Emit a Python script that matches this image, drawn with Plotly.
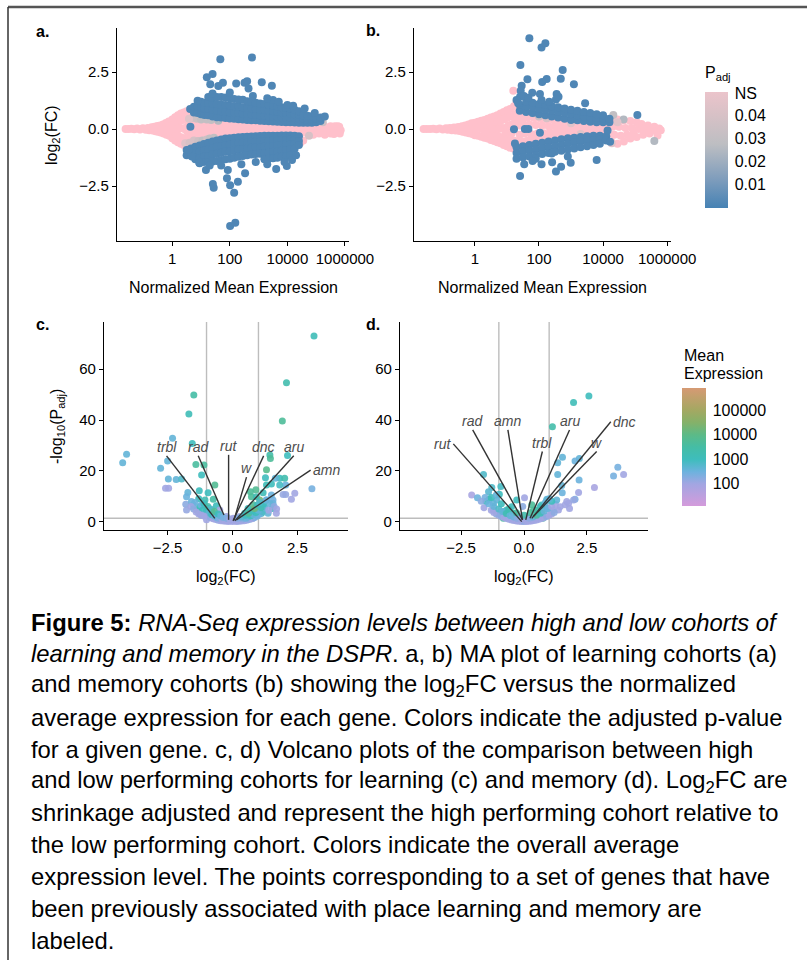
import plotly.graph_objects as go

W, H = 807, 960
FONT = "Liberation Sans, Arial, Helvetica, sans-serif"

# ---------------- Panel a: learning MA plot ----------------
# points as (log10 normalized mean expression, log2 fold change)
a_ns_pts = [(-1.62,0.0),(-1.52,0.0),(-1.42,0.01),(-1.32,-0.01),(-1.22,0.02),(-1.12,-0.02),(-1.02,0.03),(-0.92,-0.03),
    (-0.85,0.05),(-0.8,-0.05),(-0.72,0.08),(-0.68,-0.07),(-0.62,0.1),(-0.58,-0.1),(-0.52,0.13),(-0.5,-0.12),(-0.45,0.0),
    (-0.42,0.16),(-0.4,-0.15),(-0.32,0.2),(-0.3,-0.2),(-0.3,0.0),(-0.22,0.26),(-0.2,-0.25),(-0.18,0.05),(-0.12,0.33),
    (-0.1,-0.3),(-0.1,0.1),(-0.08,-0.08),(0.0,0.42),(0.0,-0.4),(0.0,0.15),(0.02,-0.15),(0.1,0.52),(0.1,-0.5),(0.1,0.22),
    (0.12,-0.22),(0.1,0.0),(0.2,0.6),(0.2,-0.58),(0.2,0.3),(0.2,-0.3),(0.22,0.0),(0.3,0.68),(0.3,-0.65),(0.32,0.38),
    (0.3,-0.36),(0.3,0.05),(0.4,0.72),(0.4,-0.7),(0.4,0.42),(0.4,-0.42),(0.42,0.0),(0.5,0.78),(0.5,-0.74),(0.5,0.45),
    (0.5,-0.45),(0.5,0.1),(0.52,-0.12),(0.6,0.72),(0.6,-0.7),(0.6,0.4),(0.6,-0.4),(0.62,0.0),(0.7,0.62),(0.7,-0.62),
    (0.7,0.3),(0.7,-0.3),(0.72,0.0),(0.8,0.55),(0.8,-0.58),(0.8,0.25),(0.82,-0.25),(0.9,0.45),(0.9,-0.45),(0.9,0.0),
    (1.0,0.35),(1.0,-0.4),(1.0,0.12),(1.0,-0.15),(1.1,0.3),(1.1,-0.3),(1.15,0.0),(1.2,0.22),(1.25,-0.22),
    (1.3,0.25),(1.35,0.0),(1.35,-0.25),(1.5,0.22),(1.55,0.0),(1.5,-0.22),(1.7,0.22),(1.75,0.0),(1.7,-0.2),(1.9,0.2),
    (1.95,0.0),(1.9,-0.2),(2.1,0.2),(2.15,0.0),(2.1,-0.18),(2.3,0.2),(2.35,0.0),(2.3,-0.18),(2.5,0.18),(2.55,0.0),
    (2.5,-0.16),(2.7,0.18),(2.75,0.0),(2.7,-0.16),(2.9,0.18),(2.95,0.0),(2.9,-0.16),(3.1,0.16),(3.15,0.0),(3.1,-0.15),
    (3.3,0.16),(3.35,0.0),(3.3,-0.15),(3.5,0.15),(3.55,0.0),(3.5,-0.14),(3.7,0.15),(3.75,0.0),(3.7,-0.14),(3.9,0.14),
    (3.95,0.0),(3.9,-0.14),(4.1,0.14),(4.15,0.0),(4.1,-0.13),(4.3,0.14),(4.35,0.0),(4.3,-0.13),(4.5,0.12),(4.55,0.0),
    (4.5,-0.15),(4.7,0.12),(4.75,0.0),(4.7,-0.2),(4.9,0.1),(4.95,-0.05),(4.9,-0.25),(5.1,0.1),(5.15,-0.05),(5.1,-0.2),
    (5.3,0.1),(5.35,-0.08),(5.3,-0.25),(5.5,0.12),(5.55,-0.05),(5.5,-0.2),(5.65,0.12),(5.7,0.05),(5.75,0.12),
    (5.8,0.1),(5.85,-0.05),(5.82,-0.2),(5.62,-0.22),(4.45,-0.6),(4.55,-0.5)]
a_grey_pts = [(0.68,0.47),(0.85,0.45),(1.0,0.42),(0.58,0.45),(0.75,-0.5),(0.9,-0.52),(1.05,-0.5),(1.2,-0.46),
    (1.3,-0.42),(1.45,-0.38),(1.2,0.42),(1.35,0.4),(5.23,0.3),(4.75,-0.3),(0.45,-0.62),(0.6,-0.6),(1.6,0.36),(2.85,-1.1)]
a_grey_padj = [0.04,0.035,0.03,0.045,0.04,0.035,0.03,0.035,0.03,0.03,0.03,0.03,0.035,0.04,0.045,0.04,0.025,0.03]
a_blue_pts = [(0.62,0.88),(0.75,0.72),(0.75,0.98),(0.88,0.7),(0.88,0.98),(1.0,0.65),(1.0,0.95),(1.0,1.2),(1.12,0.62),
    (1.12,0.9),(1.12,1.15),(1.25,0.6),(1.25,0.88),(1.25,1.15),(1.25,1.4),(1.4,0.55),(1.4,0.85),(1.4,1.12),(1.4,1.38),
    (1.55,0.52),(1.55,0.8),(1.55,1.1),(1.55,1.4),(1.7,0.5),(1.7,0.78),(1.7,1.08),(1.7,1.4),(1.85,0.48),(1.85,0.76),
    (1.85,1.05),(1.85,1.38),(2.0,0.46),(2.0,0.74),(2.0,1.02),(2.0,1.35),(2.15,0.45),(2.15,0.72),(2.15,1.0),(2.15,1.32),
    (2.3,0.43),(2.3,0.7),(2.3,1.0),(2.3,1.3),(2.45,0.42),(2.45,0.68),(2.45,0.95),(2.45,1.28),(2.6,0.4),(2.6,0.66),
    (2.6,0.92),(2.6,1.22),(2.75,0.39),(2.75,0.64),(2.75,0.9),(2.75,1.18),(2.9,0.38),(2.9,0.62),(2.9,0.88),(2.9,1.15),
    (3.05,0.36),(3.05,0.6),(3.05,0.86),(3.05,1.12),(3.2,0.35),(3.2,0.58),(3.2,0.84),(3.2,1.1),(3.35,0.34),(3.35,0.56),
    (3.35,0.8),(3.35,1.05),(3.5,0.33),(3.5,0.55),(3.5,0.78),(3.5,1.02),(3.65,0.32),(3.65,0.53),(3.65,0.76),(3.65,1.0),
    (3.8,0.31),(3.8,0.52),(3.8,0.74),(3.8,0.96),(3.95,0.3),(3.95,0.5),(3.95,0.72),(3.95,0.92),(4.1,0.3),(4.1,0.48),
    (4.1,0.68),(4.1,0.88),(4.25,0.29),(4.25,0.46),(4.25,0.65),(4.25,0.84),(4.4,0.28),(4.4,0.45),(4.4,0.62),(4.4,0.78),
    (4.55,0.28),(4.55,0.44),(4.55,0.6),(4.7,0.28),(4.7,0.42),(4.7,0.58),(4.85,0.28),(4.85,0.42),(4.85,0.56),(5.0,0.3),
    (5.0,0.45),(5.15,0.35),(5.15,0.5),
    (1.67,3.06),(2.77,3.14),(1.2,2.27),(1.4,2.41),(1.32,1.96),(1.76,2.03),(1.6,1.89),(1.4,1.56),(2.22,2.0),(2.51,2.03),
    (2.6,2.1),(2.65,1.78),(3.11,2.05),(3.46,1.9),(0.88,1.24),(0.63,0.1),(2.0,1.6),(2.8,1.45),(3.5,1.27),(3.7,1.2),
    (4.0,1.05),(4.2,1.02),(4.6,0.9),(4.95,0.7),(5.3,0.55),(3.3,1.35),
    (0.5,-0.92),(0.5,-1.15),(0.65,-0.85),(0.65,-1.12),(0.8,-0.78),(0.8,-1.05),(0.8,-1.32),(0.95,-0.72),(0.95,-1.0),
    (0.95,-1.28),(0.95,-1.5),(1.1,-0.66),(1.1,-0.95),(1.1,-1.22),(1.1,-1.45),(1.25,-0.6),(1.25,-0.9),(1.25,-1.18),
    (1.25,-1.45),(1.4,-0.55),(1.4,-0.84),(1.4,-1.12),(1.4,-1.42),(1.55,-0.5),(1.55,-0.78),(1.55,-1.08),(1.55,-1.4),
    (1.7,-0.46),(1.7,-0.74),(1.7,-1.04),(1.7,-1.36),(1.85,-0.42),(1.85,-0.7),(1.85,-1.0),(1.85,-1.32),(2.0,-0.4),
    (2.0,-0.67),(2.0,-0.97),(2.0,-1.3),(2.15,-0.38),(2.15,-0.64),(2.15,-0.94),(2.15,-1.26),(2.3,-0.36),(2.3,-0.62),
    (2.3,-0.9),(2.3,-1.22),(2.45,-0.35),(2.45,-0.6),(2.45,-0.88),(2.45,-1.18),(2.6,-0.34),(2.6,-0.58),(2.6,-0.85),
    (2.6,-1.15),(2.75,-0.33),(2.75,-0.56),(2.75,-0.82),(2.75,-1.12),(2.9,-0.32),(2.9,-0.55),(2.9,-0.8),(2.9,-1.1),
    (3.05,-0.31),(3.05,-0.54),(3.05,-0.8),(3.05,-1.08),(3.2,-0.3),(3.2,-0.52),(3.2,-0.78),(3.2,-1.06),(3.2,-1.32),
    (3.35,-0.3),(3.35,-0.52),(3.35,-0.76),(3.35,-1.04),(3.35,-1.3),(3.5,-0.29),(3.5,-0.5),(3.5,-0.74),(3.5,-1.0),
    (3.5,-1.28),(3.65,-0.29),(3.65,-0.5),(3.65,-0.72),(3.65,-0.98),(3.65,-1.26),(3.8,-0.28),(3.8,-0.48),(3.8,-0.7),
    (3.8,-0.95),(3.8,-1.22),(3.95,-0.28),(3.95,-0.48),(3.95,-0.68),(3.95,-0.92),(3.95,-1.2),(4.1,-0.28),(4.1,-0.47),
    (4.1,-0.66),(4.1,-0.9),(4.1,-1.15),(4.25,-0.29),(4.25,-0.48),(4.25,-0.66),(4.25,-0.86),(4.4,-0.32),(4.4,-0.52),
    (4.4,-0.7),
    (2.01,-4.25),(2.19,-4.11),(1.41,-2.41),(1.44,-2.57),(1.9,-2.16),(2.01,-2.46),(2.15,-2.79),(2.28,-2.31),(1.17,-1.8),
    (1.93,-1.8),(2.53,-1.94),(3.61,-1.75),(3.98,-1.62),(4.16,-1.36),(0.68,-1.21),(0.94,-1.48),(0.57,-0.92),(1.3,-1.6),
    (1.7,-1.6),(2.4,-1.55),(2.9,-1.45),(3.3,-1.55),(3.9,-1.45),(4.3,-1.15)]
a_blue_padj = 0.002

# ---------------- Panel b: memory MA plot ----------------
b_ns_pts = [(-1.6,0.0),(-1.5,0.0),(-1.4,0.0),(-1.3,0.01),(-1.2,-0.01),(-1.1,0.02),(-1.0,-0.02),(-0.9,0.03),(-0.85,-0.03),
    (-0.78,0.05),(-0.72,-0.05),(-0.65,0.07),(-0.6,-0.07),(-0.52,0.09),(-0.48,-0.09),(-0.4,0.12),(-0.38,-0.12),(-0.35,0.0),
    (-0.3,0.15),(-0.28,-0.15),(-0.2,0.2),(-0.18,-0.18),(-0.15,0.0),(-0.1,0.25),(-0.08,-0.22),(0.0,0.28),(0.0,-0.27),
    (0.02,0.0),(0.1,0.32),(0.1,-0.3),(0.12,0.08),(0.2,0.36),(0.2,-0.34),(0.2,0.0),(0.3,0.4),(0.3,-0.38),(0.3,0.12),
    (0.32,-0.12),(0.4,0.45),(0.4,-0.42),(0.4,0.15),(0.42,-0.15),(0.5,0.5),(0.5,-0.48),(0.5,0.2),(0.5,-0.2),(0.55,0.0),
    (0.6,0.55),(0.6,-0.52),(0.6,0.25),(0.6,-0.25),(0.65,0.0),(0.7,0.6),(0.7,-0.58),(0.7,0.3),(0.7,-0.3),(0.75,0.0),
    (0.8,0.68),(0.8,-0.62),(0.8,0.35),(0.8,-0.35),(0.85,0.05),(0.9,0.75),(0.9,-0.7),(0.9,0.42),(0.9,-0.4),(0.95,0.05),
    (0.95,-0.12),(1.0,0.82),(1.0,-0.75),(1.0,0.48),(1.0,-0.45),(1.05,0.15),(1.05,-0.15),(1.1,0.88),(1.1,-0.82),
    (1.12,0.55),(1.1,-0.5),(1.15,0.2),(1.15,-0.18),(1.2,1.68),(1.22,1.0),(1.2,-0.85),(1.25,0.65),(1.22,-0.5),(1.25,0.3),
    (1.3,1.2),(1.32,-0.9),(1.35,0.9),(1.35,0.45),(1.35,-0.55),(1.4,0.15),(1.4,-0.25),(1.5,0.55),(1.5,-0.55),(1.5,0.25),
    (1.55,-0.2),(1.65,0.5),(1.65,-0.5),(1.7,0.2),(1.75,-0.22),(1.85,0.48),(1.85,-0.45),(1.9,0.18),(1.95,-0.2),
    (2.05,0.45),(2.05,-0.4),(2.1,0.15),(2.15,-0.18),(2.25,0.42),(2.25,-0.38),(2.3,0.12),(2.35,-0.15),(2.45,0.4),
    (2.45,-0.35),(2.5,0.12),(2.55,-0.15),(2.65,0.38),(2.65,-0.32),(2.7,0.1),(2.75,-0.12),(2.85,0.36),(2.85,-0.3),
    (2.9,0.1),(2.95,-0.12),(3.05,0.34),(3.05,-0.28),(3.1,0.08),(3.15,-0.1),(3.25,0.32),(3.25,-0.27),(3.3,0.08),
    (3.35,-0.1),(3.45,0.3),(3.45,-0.26),(3.5,0.06),(3.55,-0.1),(3.65,0.32),(3.65,-0.32),(3.7,0.05),(3.75,-0.12),
    (3.85,0.4),(3.85,-0.4),(3.9,0.08),(3.95,-0.15),(4.05,0.45),(4.05,-0.45),(4.1,0.1),(4.15,-0.2),(4.25,0.45),
    (4.25,-0.55),(4.3,0.1),(4.35,-0.25),(4.45,0.42),(4.45,-0.65),(4.5,0.1),(4.55,-0.3),(4.65,0.38),(4.65,-0.55),
    (4.7,0.05),(4.75,-0.25),(4.85,0.35),(4.85,-0.42),(4.9,0.05),(4.95,-0.2),(5.05,0.3),(5.05,-0.35),(5.1,0.0),
    (5.2,0.22),(5.25,-0.25),(5.3,0.02),(5.4,0.15),(5.45,-0.2),(5.5,0.0),(5.6,0.1),(5.65,-0.1),(5.75,0.02),(5.8,-0.05),
    (5.7,-0.28)]
b_grey_pts = [(1.46,0.83),(1.62,0.82),(1.82,0.69),(2.0,0.55),(2.24,0.47),(4.32,0.61),(4.64,0.42),(4.45,0.3),
    (5.6,-0.53),(1.3,-0.77),(1.61,-0.85),(1.9,-0.75),(2.2,-0.6),(4.27,-0.62),(3.0,0.25),(3.3,-0.22)]
b_grey_padj = [0.035,0.04,0.03,0.035,0.04,0.03,0.025,0.045,0.025,0.04,0.035,0.03,0.04,0.045,0.045,0.045]
b_blue_pts = [(1.4,0.8),(1.4,1.05),(1.6,0.75),(1.6,1.0),(1.6,1.2),(1.8,0.7),(1.8,0.95),(1.8,1.15),(2.0,0.65),(2.0,0.9),
    (2.0,1.1),(2.2,0.6),(2.2,0.85),(2.2,1.05),(2.4,0.55),(2.4,0.8),(2.4,1.0),(2.6,0.5),(2.6,0.75),(2.6,0.95),(2.8,0.45),
    (2.8,0.7),(2.8,0.9),(3.0,0.4),(3.0,0.65),(3.0,0.85),(3.2,0.38),(3.2,0.6),(3.2,0.8),(3.4,0.35),(3.4,0.55),(3.4,0.75),
    (3.6,0.32),(3.6,0.5),(3.6,0.7),(3.8,0.3),(3.8,0.48),(3.8,0.65),(4.0,0.3),(4.0,0.45),(4.0,0.6),(4.2,0.3),(4.2,0.45),
    (1.3,-0.8),(1.3,-1.05),(1.3,-1.3),(1.5,-0.75),(1.5,-1.0),(1.5,-1.25),(1.7,-0.7),(1.7,-0.95),(1.7,-1.2),(1.9,-0.65),
    (1.9,-0.9),(1.9,-1.15),(2.1,-0.6),(2.1,-0.85),(2.1,-1.1),(2.3,-0.55),(2.3,-0.8),(2.3,-1.05),(2.5,-0.5),(2.5,-0.75),
    (2.5,-1.0),(2.7,-0.45),(2.7,-0.7),(2.7,-0.95),(2.9,-0.4),(2.9,-0.65),(2.9,-0.9),(3.1,-0.38),(3.1,-0.6),(3.1,-0.85),
    (3.3,-0.35),(3.3,-0.55),(3.3,-0.8),(3.5,-0.32),(3.5,-0.5),(3.5,-0.75),(3.7,-0.3),(3.7,-0.48),(3.7,-0.7),(3.9,-0.3),
    (3.9,-0.45),(3.9,-0.65),(4.1,-0.32),(4.1,-0.5),
    (1.7,3.98),(2.08,3.58),(2.2,3.76),(1.42,2.81),(1.64,2.18),(2.74,2.59),(3.09,1.96),(2.68,2.21),(2.1,2.06),
    (2.24,2.19),(1.46,1.9),(1.43,1.68),(1.41,1.42),(1.53,1.45),(1.79,1.59),(1.67,1.37),(2.03,1.54),(2.08,1.27),
    (2.55,1.54),(2.61,1.42),(2.53,1.3),(2.32,1.2),(3.44,1.13),(1.3,1.27),(1.35,1.13),(5.07,0.61),(1.22,-0.01),
    (1.56,0.0),(1.67,0.0),(2.03,-0.16),(1.25,-0.63),(1.41,-2.06),(1.54,-1.54),(2.08,-1.54),(2.41,-1.46),(2.53,-1.86),
    (2.69,-1.65),(2.99,-1.48),(2.4,-1.07),(3.8,-1.36),(4.14,-0.07),(4.22,-0.56),(1.9,-1.3),(1.8,-1.4),(2.9,-1.2)]
b_blue_padj = 0.002

# ---------------- Panel c: learning volcano ----------------
# (log2 fold change, -log10 adjusted p, log10 mean expression)
c_pts = [(3.14,73.1,3.1),(2.08,54.7,3.3),(1.92,39.6,3.7),(-1.49,49.9,3.5),(-1.68,42.4,3.1),(-1.55,30.8,3.0),
    (-2.31,32.8,2.6),(-4.08,26.5,2.6),(-4.23,23.2,2.6),(-2.5,23.9,2.6),(-2.77,21.0,2.6),(-2.47,16.8,2.6),(-2.17,16.6,2.6),
    (-2.58,13.1,2.0),(-2.46,13.1,2.0),(-1.96,16.8,2.8),(-1.41,22.5,3.6),(-1.1,22.3,3.6),(-1.19,18.4,3.0),(-0.68,14.4,3.8),
    (-1.28,12.2,3.0),(-1.72,11.5,2.6),(-1.8,6.8,2.2),(-0.94,11.4,3.0),(-1.06,8.5,3.2),(-0.74,8.8,3.5),(1.44,26.2,3.4),
    (1.46,24.9,3.7),(2.12,26.0,3.0),(1.31,20.4,3.9),(2.05,14.4,2.5),(1.82,17.1,3.0),(1.65,17.1,2.6),(1.82,14.4,2.9),
    (2.01,17.1,3.3),(3.06,12.9,2.4),(2.4,11.2,2.0),(2.27,8.8,2.0),(1.95,10.7,2.1),(2.05,10.7,2.1),(1.56,8.5,2.4),
    (1.54,5.2,3.0),(1.27,17.3,3.0),(1.31,14.4,3.1),(0.9,12.5,3.8),(0.69,11.8,3.7),(1.05,8.5,4.3),(0.73,9.8,3.7),
    (1.18,11.4,3.1),(0.92,9.8,3.2),(1.5,14.8,3.0),
    (-1.77,4.6,2.1),(-1.51,6.6,2.5),(-1.38,4.6,3.0),(-1.26,3.3,2.6),(-1.0,2.6,2.5),(-1.19,2.6,3.6),(-0.94,5.2,3.0),
    (-0.62,6.2,3.0),(-0.49,4.6,2.0),(-0.74,3.3,2.0),(-0.42,2.2,3.8),(-0.23,2.0,2.0),(0.03,1.3,2.0),(0.28,2.0,2.0),
    (0.47,3.3,3.0),(0.6,5.2,3.0),(0.79,6.6,3.8),(0.99,4.9,2.6),(1.18,5.9,3.0),(1.37,3.3,2.6),(1.56,7.2,2.5),(1.69,3.3,2.0),
    (0.92,2.2,2.0),(0.67,2.0,2.5),(-0.1,0.7,2.0),(0.15,0.7,2.0),(-0.49,1.3,2.0),(0.41,1.3,2.0),(-0.74,1.3,2.0),
    (0.79,1.3,2.5),(1.12,3.3,3.0),(1.31,8.5,2.5),(1.5,10.5,2.5),(-1.77,9.8,2.5),(-1.58,7.9,2.5),(-1.0,0.7,2.0),
    (-0.81,4.6,3.7),(-1.26,5.9,3.0),
    (-1.3,9.0,3.0),(-1.2,6.5,2.5),(-1.15,4.5,3.0),(-1.05,3.2,2.5),(-0.95,2.2,2.0),(-0.85,1.6,2.2),(-0.75,1.1,2.0),
    (-0.65,0.8,2.0),(-0.55,0.5,2.1),(-0.45,0.35,2.0),(-0.35,0.2,2.0),(-0.25,0.1,2.0),(-0.15,0.05,2.0),(0.0,0.0,2.0),
    (0.15,0.05,2.0),(0.25,0.1,2.1),(0.35,0.2,2.0),(0.45,0.35,2.0),(0.55,0.5,2.0),(0.65,0.8,2.2),(0.75,1.1,2.0),
    (0.85,1.6,2.3),(0.95,2.2,2.5),(1.05,3.0,2.5),(1.15,4.0,2.8),(1.25,5.5,2.6),
    (-1.0,4.5,3.0),(-0.9,3.5,2.7),(-0.8,2.8,3.0),(-0.7,2.2,2.6),(-0.6,1.6,2.5),(-0.5,1.2,2.3),(-0.4,0.9,2.0),
    (-0.3,0.6,2.0),(-0.2,0.4,2.0),(-0.1,0.3,2.0),(0.1,0.3,2.0),(0.2,0.5,2.0),(0.3,0.7,2.0),(0.4,1.0,2.2),(0.5,1.3,2.5),
    (0.6,1.8,2.6),(0.7,2.3,3.0),(0.8,2.8,2.6),(0.9,3.6,3.0),(1.0,4.5,2.6),(1.1,5.5,3.2),(1.2,7.0,3.0),
    (-1.1,7.0,3.0),(-0.95,6.0,3.4),(-0.85,5.0,2.8),(-0.7,4.0,3.8),(-0.55,3.0,3.0),(-0.45,2.2,2.6),(-0.35,1.6,2.4),
    (-0.2,1.2,2.3),(-0.1,1.0,2.0),(0.05,1.0,2.0),(0.2,1.3,2.3),(0.35,1.8,2.7),(0.5,2.5,3.0),(0.62,3.3,3.8),(0.72,4.2,3.0),
    (0.85,5.2,4.2),(0.95,6.5,3.1),(1.05,7.5,2.8),(1.3,8.5,2.5),(1.45,7.0,2.6),(1.6,6.0,2.2),(1.4,4.5,2.0),(1.7,5.0,2.0),
    (-1.45,7.5,2.5),(-1.6,6.0,2.0),(-1.5,5.0,2.2),(-1.4,3.8,2.0),(-1.3,3.0,2.0),(-1.2,2.5,2.0),(-1.1,2.2,2.0)]

c_genes = ["trbl", "rad", "rut", "dnc", "aru", "w", "amn"]
c_gene_fc = [-0.68, -0.33, -0.15, 0.02, 0.09, 0.06, 0.15]
c_gene_nlp = [1.3, 2.6, 0.7, 0.3, 0.3, 0.7, 0.7]
c_label_fc = [-2.54, -1.32, -0.15, 1.2, 2.36, 0.54, 3.01]
c_label_nlp = [25.9, 25.9, 26.3, 25.9, 25.9, 17.5, 20.3]
c_label_side = ["top", "top", "top", "top", "top", "top", "right"]

# ---------------- Panel d: memory volcano ----------------
d_pts = [(2.58,49.5,3.0),(1.97,46.9,3.1),(1.13,37.4,3.4),(1.53,25.3,2.6),(1.34,23.2,2.6),(2.2,24.9,2.6),(2.03,23.9,2.5),
    (1.34,18.6,2.6),(2.19,16.4,2.5),(2.17,11.5,2.0),(2.03,8.8,2.3),(2.8,13.4,1.9),(3.73,21.4,2.4),(3.56,18.0,2.4),
    (3.96,18.6,2.0),(-1.61,18.6,2.8),(-2.08,10.5,1.9),(-1.85,9.4,2.5),(-1.28,13.4,2.8),(-0.92,13.8,2.9),(-1.39,8.8,3.8),
    (-1.51,7.9,3.0),(-1.08,8.5,2.6),(-1.59,5.5,2.0),(0.02,9.4,2.0),(1.52,11.4,2.5),(1.5,14.2,2.6),(1.77,7.2,2.0),
    (1.81,5.2,2.0),(1.37,4.6,2.0),(0.91,8.5,3.0),(0.75,1.3,3.6),(-0.82,1.3,3.6),(-1.41,11.8,2.7),(-0.98,10.8,3.0),
    (-1.22,7.2,2.6),(-0.69,4.6,3.0),(-0.42,3.3,3.0),(-0.16,2.0,2.0),(0.18,2.0,2.0),(0.38,4.6,3.8),(0.64,5.9,3.0),
    (0.91,5.2,2.6),(1.17,4.6,2.0),(1.44,5.9,2.0),(1.64,6.6,2.0),(1.7,7.9,2.0),(1.97,8.5,2.1),(-1.02,3.3,2.0),
    (-1.22,4.6,2.0),(-0.49,5.9,3.0),(-0.29,1.3,2.0),(-0.02,0.7,3.0),(0.31,0.7,2.0),(0.51,1.3,2.0),(0.71,3.3,4.4),
    (0.31,6.6,3.7),(0.91,8.8,2.6),(-0.79,3.9,3.0),(-0.29,8.5,3.0),
    (-1.0,2.5,2.0),(-0.9,2.0,2.2),(-0.8,1.6,2.0),(-0.7,1.2,2.0),(-0.6,0.9,2.0),(-0.5,0.6,2.0),(-0.4,0.4,2.0),
    (-0.3,0.25,2.0),(-0.2,0.12,2.0),(-0.1,0.05,2.0),(0.0,0.0,2.2),(0.1,0.05,2.0),(0.2,0.12,2.0),(0.3,0.25,2.0),
    (0.4,0.4,2.0),(0.5,0.6,2.0),(0.6,0.9,2.0),(0.7,1.2,2.0),(0.8,1.6,2.0),(0.9,2.0,2.2),(1.0,2.5,2.0),(1.1,3.0,2.0),
    (1.2,3.6,2.2),(-1.1,3.0,2.2),(-1.2,3.6,2.0),(-1.3,4.5,2.0),
    (-1.2,6.0,2.6),(-1.0,5.0,2.8),(-0.85,4.0,2.6),(-0.7,3.2,3.2),(-0.55,2.4,2.6),(-0.4,1.8,2.5),(-0.25,1.2,2.2),
    (-0.1,0.8,2.0),(0.05,0.9,2.0),(0.2,1.3,2.2),(0.35,1.8,2.6),(0.5,2.5,3.6),(0.65,3.3,3.0),(0.8,4.2,2.6),(0.95,5.2,2.5),
    (1.1,6.0,2.0),(1.25,6.8,2.0),(1.3,8.5,2.6),(1.1,8.0,3.0),(-1.4,7.0,2.5),(-1.55,9.5,2.4),(-1.3,9.5,3.0),
    (-1.1,10.5,2.6),(-1.7,8.0,2.2),(-0.9,7.0,3.0),(-0.6,5.0,3.2),(-0.3,3.5,3.6),(0.0,2.5,3.4),(0.25,3.5,3.6),
    (0.5,4.5,3.4),(0.7,6.5,3.0),(0.85,7.5,2.6),(1.0,9.0,2.6),(-0.05,6.0,2.2)]

d_genes = ["rut", "rad", "amn", "trbl", "aru", "dnc", "w"]
d_gene_fc = [-0.09, -0.06, -0.06, 0.07, 0.24, 0.31, 0.37]
d_gene_nlp = [0.0, 0.7, 0.7, 0.7, 1.3, 1.3, 2.0]
d_label_fc = [-2.81, -2.04, -0.64, 0.73, 1.81, 3.45, 2.89]
d_label_nlp = [30.6, 36.1, 36.1, 27.6, 36.1, 39.3, 27.6]
d_label_side = ["left", "top", "top", "top", "top", "right", "top"]

fc_threshold = 1.0
padj_threshold_nlp = 1.30103  # -log10(0.05)

ma_xticks = [1, 100, 10000, 1000000]
ma_xtick_text = ["1", "100", "10000", "1000000"]
fc_ticks = [-2.5, 0.0, 2.5]
fc_tick_text = ["\u22122.5", "0.0", "2.5"]
nlp_ticks = [0, 20, 40, 60]
padj_ticks = [0.01, 0.02, 0.03, 0.04, 0.0495]
padj_tick_text = ["0.01", "0.02", "0.03", "0.04", "NS"]
expr_ticks = [2, 3, 4, 5]
expr_tick_text = ["100", "1000", "10000", "100000"]

caption_lines = [
    "<b>Figure 5:</b> <i>RNA-Seq expression levels between high and low cohorts of</i>",
    "<i>learning and memory in the DSPR</i>. a, b) MA plot of learning cohorts (a)",
    "and memory cohorts (b) showing the log<sub>2</sub>FC versus the normalized",
    "average expression for each gene. Colors indicate the adjusted p-value",
    "for a given gene. c, d) Volcano plots of the comparison between high",
    "and low performing cohorts for learning (c) and memory (d). Log<sub>2</sub>FC are",
    "shrinkage adjusted and represent the high performing cohort relative to",
    "the low performing cohort. Colors indicate the overall average",
    "expression level. The points corresponding to a set of genes that have",
    "been previously associated with place learning and memory are",
    "labeled.",
]

# ---------------- figure ----------------
def fx(p):
    return p / W

def fy(p):
    return 1 - p / H

fig = go.Figure()

def ma_traces(ns, grey, grey_padj, blue, blue_padj, xa, ya):
    fig.add_trace(go.Scatter(x=[10 ** p[0] for p in ns], y=[p[1] for p in ns], mode="markers",
                             marker=dict(size=8, color="#FFC0CB", line=dict(width=0)),
                             xaxis=xa, yaxis=ya, showlegend=False, hoverinfo="skip"))
    fig.add_trace(go.Scatter(x=[10 ** p[0] for p in grey], y=[p[1] for p in grey], mode="markers",
                             marker=dict(size=8, color=grey_padj, coloraxis="coloraxis", line=dict(width=0)),
                             xaxis=xa, yaxis=ya, showlegend=False, hoverinfo="skip"))
    fig.add_trace(go.Scatter(x=[10 ** p[0] for p in blue], y=[p[1] for p in blue], mode="markers",
                             marker=dict(size=8, color=[blue_padj] * len(blue), coloraxis="coloraxis",
                                         line=dict(width=0)),
                             xaxis=xa, yaxis=ya, showlegend=False, hoverinfo="skip"))

ma_traces(a_ns_pts, a_grey_pts, a_grey_padj, a_blue_pts, a_blue_padj, "x", "y")
ma_traces(b_ns_pts, b_grey_pts, b_grey_padj, b_blue_pts, b_blue_padj, "x2", "y2")

def volcano(pts, genes, gfc, gnlp, lfc, lnlp, side, xa, ya):
    fig.add_trace(go.Scatter(x=[p[0] for p in pts], y=[p[1] for p in pts], mode="markers",
                             marker=dict(size=7, color=[p[2] for p in pts], coloraxis="coloraxis2",
                                         opacity=0.9, line=dict(width=0)),
                             xaxis=xa, yaxis=ya, showlegend=False, hoverinfo="skip"))
    for i, g in enumerate(genes):
        fig.add_trace(go.Scatter(x=[lfc[i], gfc[i]], y=[lnlp[i], gnlp[i]], mode="lines",
                                 line=dict(color="#333333", width=1.4), xaxis=xa, yaxis=ya,
                                 showlegend=False, hoverinfo="skip"))
        kw = dict(xanchor="center", yanchor="bottom", xshift=0, yshift=0)
        if side[i] == "right":
            kw = dict(xanchor="left", yanchor="middle", xshift=1, yshift=0)
        elif side[i] == "left":
            kw = dict(xanchor="right", yanchor="middle", xshift=-1, yshift=0)
        fig.add_annotation(x=lfc[i], y=lnlp[i], xref=xa, yref=ya, text="<i>%s</i>" % g, showarrow=False,
                           font=dict(size=14, color="#4D4D4D", family=FONT), borderpad=0, **kw)

volcano(c_pts, c_genes, c_gene_fc, c_gene_nlp, c_label_fc, c_label_nlp, c_label_side, "x3", "y3")
volcano(d_pts, d_genes, d_gene_fc, d_gene_nlp, d_label_fc, d_label_nlp, d_label_side, "x4", "y4")

# threshold lines in the volcano plots
for xa, ya in (("x3", "y3"), ("x4", "y4")):
    for v in (-fc_threshold, fc_threshold):
        fig.add_shape(type="line", xref=xa, yref=ya + " domain", x0=v, x1=v, y0=0, y1=1,
                      line=dict(color="#BDBDBD", width=1.4), layer="below")
    fig.add_shape(type="line", xref=xa + " domain", yref=ya, x0=0, x1=1, y0=padj_threshold_nlp,
                  y1=padj_threshold_nlp, line=dict(color="#BDBDBD", width=1.4), layer="below")

axis_common = dict(showline=True, linecolor="black", linewidth=1.3, ticks="outside", ticklen=4, tickwidth=1.2,
                   tickcolor="black", showgrid=False, zeroline=False,
                   tickfont=dict(size=15, color="black", family=FONT))

cbar_common = dict(xanchor="left", xpad=0, yanchor="middle", ypad=0, lenmode="pixels", thicknessmode="pixels",
                   outlinewidth=0, ticks="outside", ticklen=4, tickcolor="rgba(0,0,0,0)",
                   tickfont=dict(size=16, color="black", family=FONT), title=dict(text=""))

fig.update_layout(
    width=W, height=H, margin=dict(l=0, r=0, t=0, b=0, pad=0, autoexpand=False),
    paper_bgcolor="white", plot_bgcolor="white",
    font=dict(family=FONT, color="black", size=15),
    xaxis=dict(domain=[fx(117), fx(349)], type="log", range=[-1.92, 6.14], anchor="y",
               tickvals=ma_xticks, ticktext=ma_xtick_text, **axis_common),
    yaxis=dict(domain=[fy(241), fy(28)], range=[-4.91, 4.43], anchor="x",
               tickvals=fc_ticks, ticktext=fc_tick_text, **axis_common),
    xaxis2=dict(domain=[fx(414), fx(671)], type="log", range=[-1.9, 6.12], anchor="y2",
                tickvals=ma_xticks, ticktext=ma_xtick_text, **axis_common),
    yaxis2=dict(domain=[fy(241), fy(28)], range=[-4.91, 4.43], anchor="x2",
                tickvals=fc_ticks, ticktext=fc_tick_text, **axis_common),
    xaxis3=dict(domain=[fx(104), fx(348)], range=[-4.95, 4.45], anchor="y3",
                tickvals=fc_ticks, ticktext=fc_tick_text, **axis_common),
    yaxis3=dict(domain=[fy(530), fy(322)], range=[-3.3, 78.6], anchor="x3",
                tickvals=nlp_ticks, **axis_common),
    xaxis4=dict(domain=[fx(400), fx(648)], range=[-4.93, 4.93], anchor="y4",
                tickvals=fc_ticks, ticktext=fc_tick_text, **axis_common),
    yaxis4=dict(domain=[fy(530), fy(322)], range=[-3.3, 78.6], anchor="x4",
                tickvals=nlp_ticks, **axis_common),
    coloraxis=dict(cmin=0, cmax=0.05,
                   colorscale=[[0, "#4682B4"], [0.25, "#7F9DBC"], [0.55, "#BDBEC2"], [0.8, "#D7C1C6"],
                               [1, "#EBC4CB"]],
                   colorbar=dict(x=fx(705), y=fy(150), len=116, thickness=23,
                                 tickvals=padj_ticks, ticktext=padj_tick_text, **cbar_common)),
    coloraxis2=dict(cmin=1.1, cmax=5.9,
                    colorscale=[[0, "#D49BDB"], [0.1875, "#A2A6E2"], [0.29, "#6DB2DE"], [0.396, "#3EBDBC"],
                                [0.5, "#45BDA5"], [0.604, "#5CBA87"], [0.708, "#85B169"], [0.8125, "#A4A862"],
                                [1, "#D69A74"]],
                    colorbar=dict(x=fx(682), y=fy(447), len=118, thickness=24,
                                  tickvals=expr_ticks, ticktext=expr_tick_text, **cbar_common)),
)

def ann(text, x, y, size=16, xanchor="center", yanchor="middle", angle=0, **kw):
    fig.add_annotation(text=text, x=fx(x), y=fy(y), xref="paper", yref="paper", showarrow=False,
                       xanchor=xanchor, yanchor=yanchor, textangle=angle, borderpad=0,
                       font=dict(size=size, color="black", family=FONT), **kw)

# panel labels
ann("<b>a.</b>", 42, 32)
ann("<b>b.</b>", 373, 30)
ann("<b>c.</b>", 42, 324)
ann("<b>d.</b>", 373, 324)
# axis titles
ann("log<sub>2</sub>(FC)", 52, 135, angle=-90)
ann("Normalized Mean Expression", 233, 287)
ann("Normalized Mean Expression", 542, 287)
ann("-log<sub>10</sub>(P<sub>adj</sub>)", 57, 427, angle=-90)
ann("log<sub>2</sub>(FC)", 226, 577)
ann("log<sub>2</sub>(FC)", 524, 577)
# legend titles
ann("P<sub>adj</sub>", 704, 73, xanchor="left")
ann("Mean", 683, 355, xanchor="left")
ann("Expression", 683, 373, xanchor="left")
# caption
for i, line in enumerate(caption_lines):
    ann(line, 30, 622 + 31.8 * i, size=23.8, xanchor="left")

# figure frame (top and left rules)
fig.add_shape(type="line", xref="paper", yref="paper", x0=fx(8), x1=1, y0=fy(7), y1=fy(7),
              line=dict(color="#555555", width=2.5))
fig.add_shape(type="line", xref="paper", yref="paper", x0=fx(8), x1=fx(8), y0=fy(7), y1=0,
              line=dict(color="#333333", width=1.5))

# the page's default 8px body margin would shift the 807x960 figure; remove it
fig.write_html("out.html", config={"displayModeBar": False},
               post_script="document.body.style.margin='0';document.body.style.overflow='hidden';")
